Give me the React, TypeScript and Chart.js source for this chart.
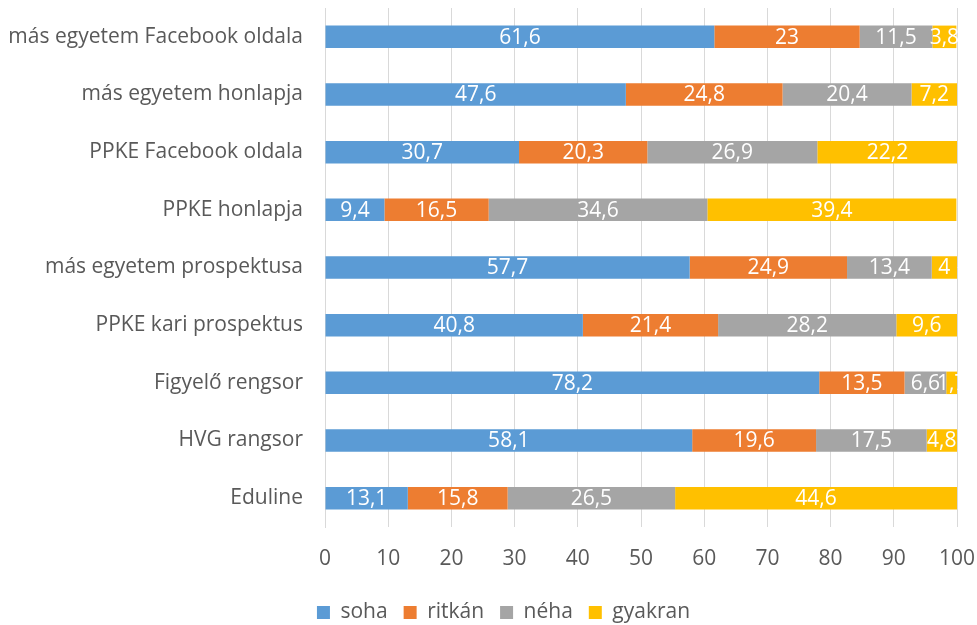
import React, { useEffect, useRef } from "react";
import { Chart, registerables } from "chart.js";

Chart.register(...registerables);

const categories = [
  "más egyetem Facebook oldala",
  "más egyetem honlapja",
  "PPKE Facebook oldala",
  "PPKE honlapja",
  "más egyetem prospektusa",
  "PPKE kari prospektus",
  "Figyelő rengsor",
  "HVG rangsor",
  "Eduline",
];
const soha = [61.6, 47.6, 30.7, 9.4, 57.7, 40.8, 78.2, 58.1, 13.1];
const ritkan = [23, 24.8, 20.3, 16.5, 24.9, 21.4, 13.5, 19.6, 15.8];
const neha = [11.5, 20.4, 26.9, 34.6, 13.4, 28.2, 6.6, 17.5, 26.5];
const gyakran = [3.8, 7.2, 22.2, 39.4, 4, 9.6, 1.7, 4.8, 44.6];
const seriesNames = ["soha", "ritkán", "néha", "gyakran"];
const xTicks = [0, 10, 20, 30, 40, 50, 60, 70, 80, 90, 100];

const FONT = "'Open Sans', sans-serif";
const FS = 21;

const labelPlugin = {
  id: "barLabels",
  afterLayout(chart: any) {
    if (chart.legend) {
      chart.legend.left += 25;
      chart.legend.right += 25;
    }
  },
  afterDatasetsDraw(chart: any) {
    const ctx = chart.ctx;
    ctx.save();
    ctx.font = `${FS}px ${FONT}`;
    ctx.fillStyle = "#ffffff";
    ctx.textAlign = "center";
    ctx.textBaseline = "middle";
    chart.data.datasets.forEach((ds: any, di: number) => {
      const meta = chart.getDatasetMeta(di);
      meta.data.forEach((bar: any, i: number) => {
        const v = ds.data[i];
        const cx = (bar.x + bar.base) / 2;
        ctx.fillText(String(v).replace(".", ","), cx, bar.y + 1);
      });
    });
    ctx.restore();
  },
};

export default function App() {
  const ref = useRef<HTMLCanvasElement>(null);
  useEffect(() => {
    document.body.style.margin = "0";
    const colors = ["#5B9BD5", "#ED7D31", "#A5A5A5", "#FFC000"];
    const values = [soha, ritkan, neha, gyakran];
    const chart = new Chart(ref.current!, {
      type: "bar",
      data: {
        labels: categories,
        datasets: values.map((d, i) => ({
          label: seriesNames[i],
          data: d,
          backgroundColor: colors[i],
          borderWidth: 0,
          categoryPercentage: 1,
          barPercentage: 0.39,
        })),
      },
      options: {
        indexAxis: "y",
        responsive: false,
        animation: false,
        layout: { padding: { top: 8, right: 20, left: 0, bottom: -8 } },
        plugins: {
          legend: {
            position: "bottom",
            labels: {
              font: { family: FONT, size: FS },
              color: "#595959",
              boxWidth: 13,
              boxHeight: 13,
              padding: 16,
            },
          },
          tooltip: { enabled: false },
        },
        scales: {
          x: {
            stacked: true,
            min: 0,
            max: 100,
            afterBuildTicks: (s: any) => {
              s.ticks = xTicks.map((v) => ({ value: v }));
            },
            afterFit: (s: any) => {
              s.height = 59;
              s.paddingLeft = 0;
              s.paddingRight = 0;
            },
            grid: { color: "#d9d9d9", drawTicks: false },
            border: { display: false },
            ticks: {
              font: { family: FONT, size: FS },
              color: "#595959",
              padding: 19,
            },
          },
          y: {
            stacked: true,
            afterFit: (s: any) => {
              s.width = 325;
              s.paddingTop = 0;
              s.paddingBottom = 0;
            },
            grid: { display: false },
            border: { display: true, color: "#d9d9d9" },
            ticks: {
              font: { family: FONT, size: FS },
              color: "#595959",
              padding: 14,
            },
          },
        },
      },
      plugins: [labelPlugin],
    });
    return () => chart.destroy();
  }, []);
  return (
    <div style={{ width: 977, height: 625 }}>
      <canvas ref={ref} width={977} height={625} style={{ display: "block" }} />
    </div>
  );
}
